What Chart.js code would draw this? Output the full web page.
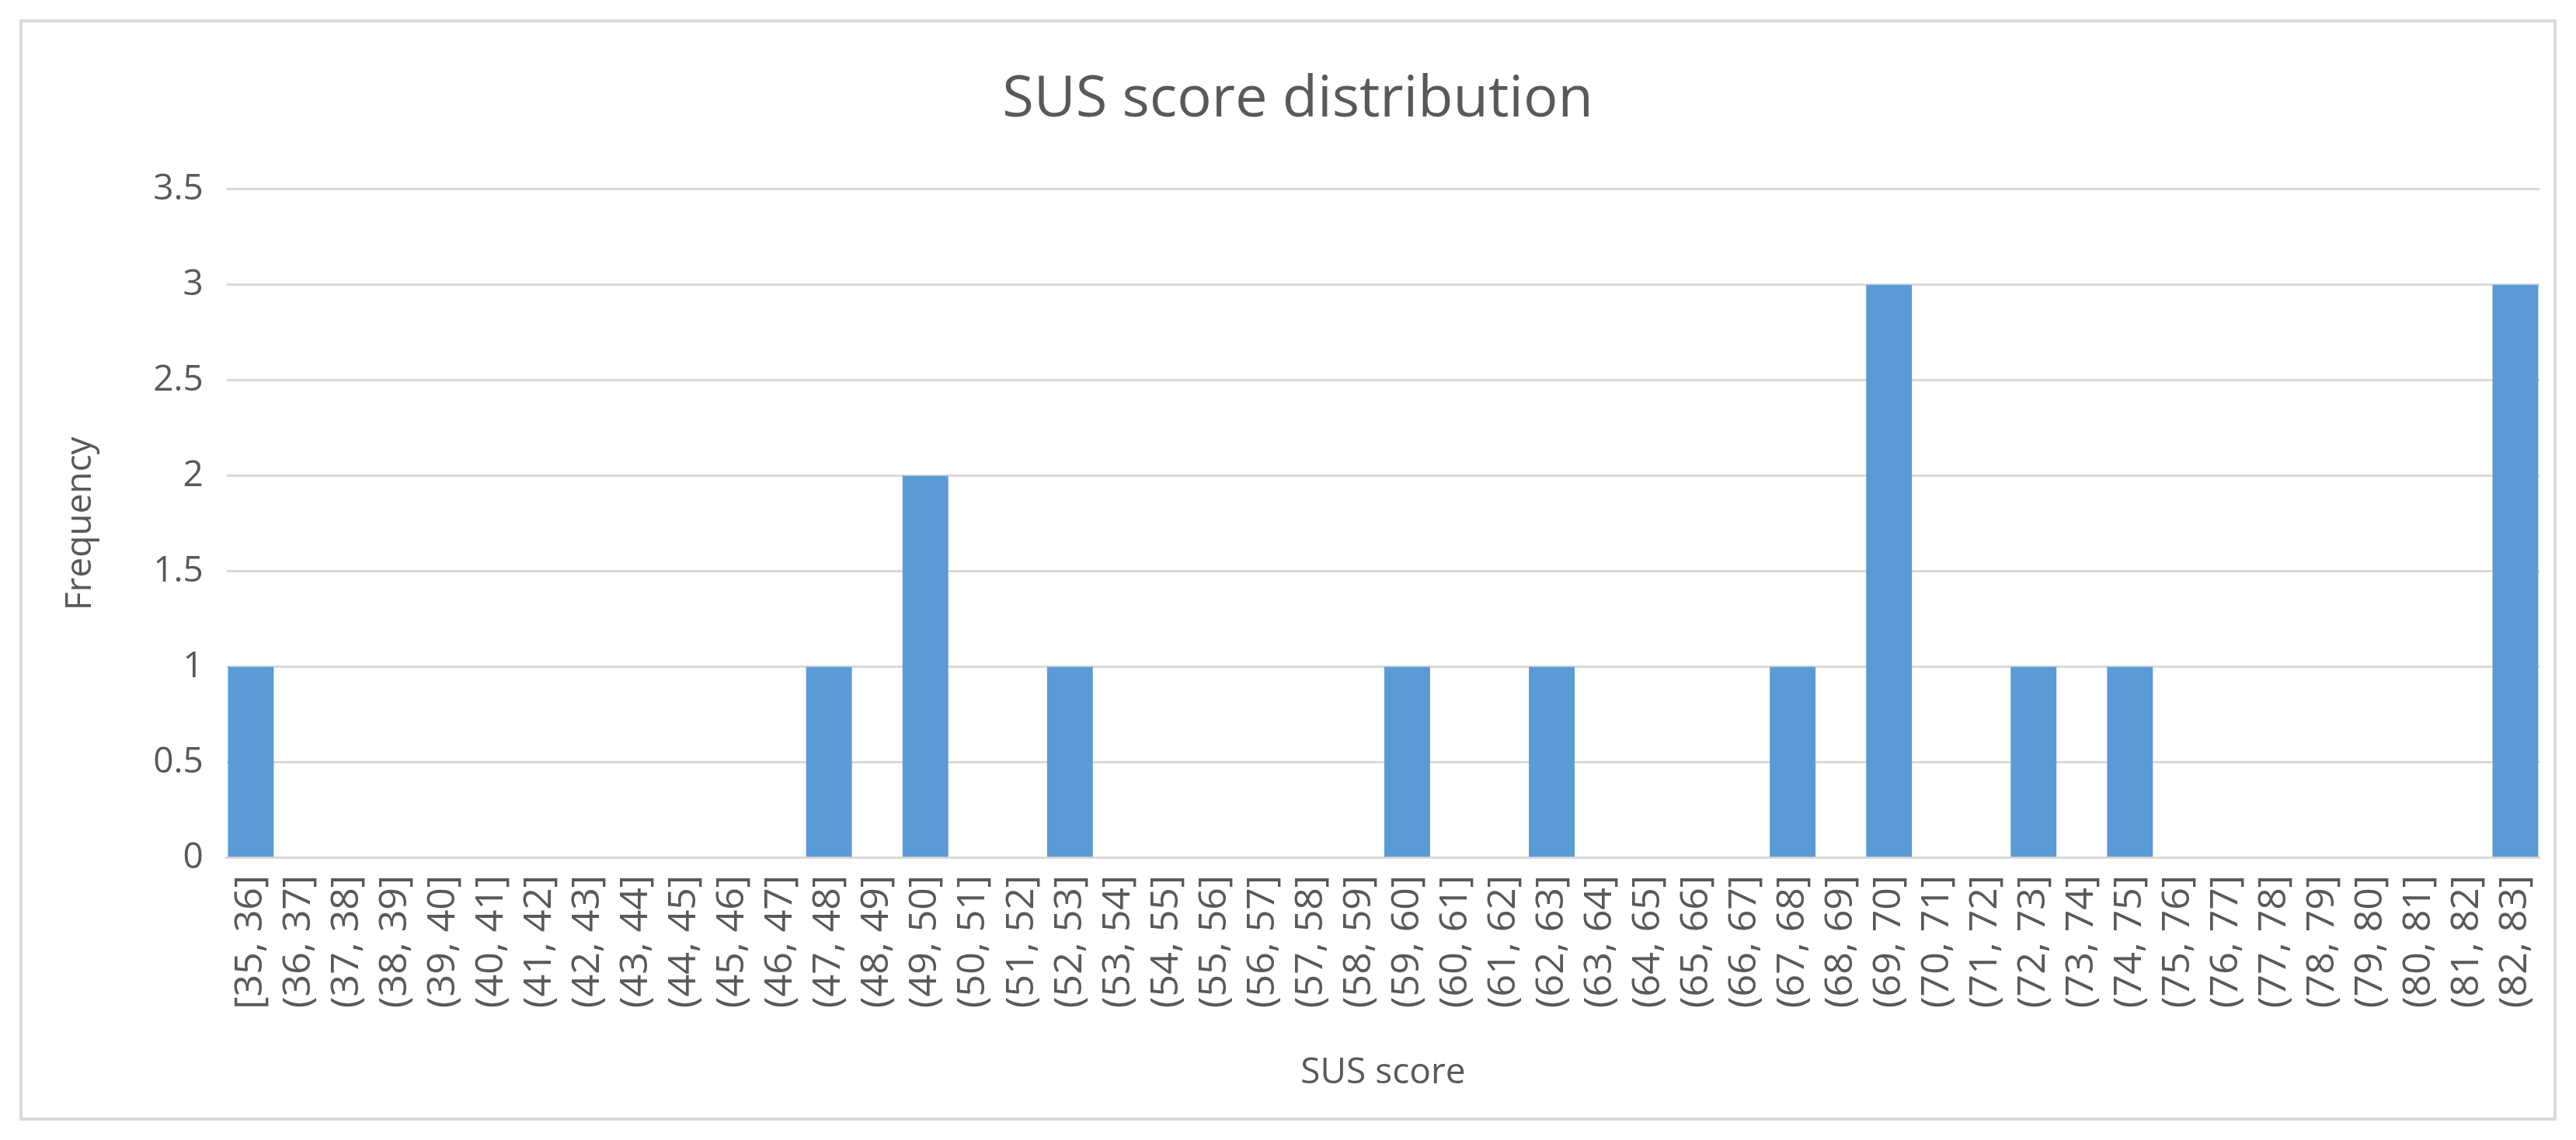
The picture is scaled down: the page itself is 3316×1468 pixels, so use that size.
<!DOCTYPE html>
<html>
<head>
<meta charset="utf-8">
<script src="https://cdn.jsdelivr.net/npm/chart.js@4/dist/chart.umd.min.js"></script>
<style>
  html, body { margin: 0; padding: 0; background: #fff; }
  #wrap { position: absolute; left: 0; top: 0; width: 3316px; height: 1468px; }
</style>
</head>
<body>
<div id="wrap"><canvas id="c"></canvas></div>
<script>
// bins from 35 to 83, first one closed on both ends
const binStarts = [];
for (let s = 35; s < 83; s++) binStarts.push(s);
const labels = binStarts.map((s, i) => (i === 0 ? "[" : "(") + s + ", " + (s + 1) + "]");

// frequency, keyed by bin start
const counts = { 35: 1, 47: 1, 49: 2, 52: 1, 59: 1, 62: 1, 67: 1, 69: 3, 72: 1, 74: 1, 82: 3 };
const freq = binStarts.map((s) => counts[s] || 0);

const yTicks = [0, 0.5, 1, 1.5, 2, 2.5, 3, 3.5];

// outer frame like the office chart area
const framePlugin = {
  id: "frame",
  beforeDraw(chart) {
    const ctx = chart.ctx;
    ctx.save();
    ctx.fillStyle = "#fff";
    ctx.fillRect(0, 0, chart.width, chart.height);
    ctx.strokeStyle = "#d9d9d9";
    ctx.lineWidth = 4;
    ctx.strokeRect(27, 27, 3262, 1414);
    ctx.restore();
  },
};

const grey = "#595959";

new Chart(document.getElementById("c"), {
  type: "bar",
  plugins: [framePlugin],
  data: {
    labels: labels,
    datasets: [
      {
        label: "Frequency",
        data: freq,
        backgroundColor: "#5b9bd5",
        barPercentage: 0.95,
        categoryPercentage: 1,
      },
    ],
  },
  options: {
    animation: false,
    responsive: true,
    maintainAspectRatio: false,
    layout: { padding: { top: 85, left: 72, right: 47, bottom: 55 } },
    plugins: {
      legend: { display: false },
      tooltip: { enabled: false },
      title: {
        display: true,
        text: "SUS score distribution",
        color: grey,
        font: { family: "Open Sans", size: 74, weight: "normal" },
        padding: { top: 0, bottom: 70 },
      },
    },
    scales: {
      x: {
        grid: { display: false },
        border: { color: "#d9d9d9", width: 3 },
        ticks: {
          color: grey,
          font: { family: "Open Sans", size: 50 },
          minRotation: 90,
          maxRotation: 90,
          autoSkip: false,
          padding: 14,
        },
        title: {
          display: true,
          text: "SUS score",
          color: grey,
          font: { family: "Open Sans", size: 46 },
          padding: { top: 40 },
        },
      },
      y: {
        min: 0,
        max: 3.5,
        afterBuildTicks(axis) {
          axis.ticks = yTicks.map((v) => ({ value: v }));
        },
        grid: { color: "#d9d9d9", lineWidth: 3, drawTicks: false },
        border: { display: false },
        ticks: {
          color: grey,
          font: { family: "Open Sans", size: 46 },
          padding: 30,
          callback: (v) => String(v),
        },
        title: {
          display: true,
          text: "Frequency",
          color: grey,
          font: { family: "Open Sans", size: 46 },
          padding: { bottom: 36 },
        },
      },
    },
  },
});
</script>
</body>
</html>
